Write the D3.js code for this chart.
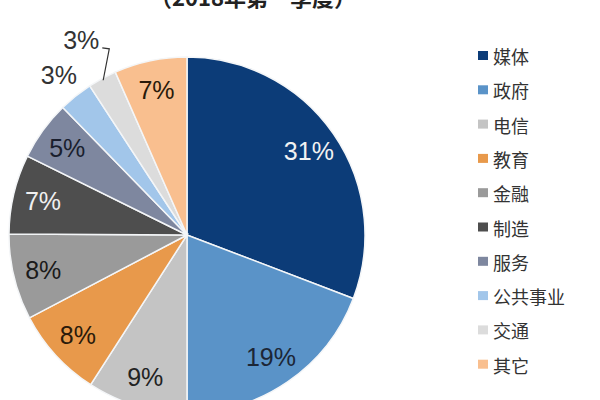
<!DOCTYPE html>
<html><head><meta charset="utf-8">
<script src="https://cdn.jsdelivr.net/npm/d3@7"></script>
<style>body{margin:0;background:#fff}svg{display:block}</style>
</head><body><svg id="c" width="600" height="400"></svg>
<script>
const title = "（2018年第一季度）";
const categories = ["媒体","政府","电信","教育","金融","制造","服务","公共事业","交通","其它"];
const values = [30.8, 19.2, 9.1, 8.2, 7.8, 7.2, 5.4, 3.1, 2.6, 6.6];
const labels = ["31%","19%","9%","8%","8%","7%","5%","3%","3%","7%"];
const colors = ["#0c3c78","#5a93c8","#c4c4c4","#e8994b","#9a9a9a","#4e4e4e","#7e879f","#a2c6ea","#dcdcdc","#f9bf8f"];
const labelColors = ["#f2f2f2","#1c2636","#222","#2a1a0a","#1a1a1a","#f0f0f0","#1a1f2e","#333","#333","#2a1a0a"];

const svg = d3.select("#c");
const cx = 187, cy = 235, R = 178;

svg.append("text").attr("x", 253).attr("y", 6).attr("text-anchor","middle")
  .attr("font-family","Noto Sans CJK SC").attr("font-size",22).attr("font-weight","bold")
  .attr("fill","#222").text(title);

const pie = d3.pie().sort(null).value(d => d)(values);
const arc = d3.arc().innerRadius(0).outerRadius(R);
const g = svg.append("g").attr("transform",`translate(${cx},${cy})`);
g.selectAll("path").data(pie).join("path")
  .attr("d", arc).attr("fill",(d,i)=>colors[i])
  .attr("stroke","#f4f6f8").attr("stroke-width",1.5);

const inArc = d3.arc().innerRadius(148).outerRadius(148);
const outside = {7: 205, 8: 222};
pie.forEach((d,i) => {
  let p;
  if (outside[i]) {
    p = d3.arc().innerRadius(outside[i]).outerRadius(outside[i]).centroid(d);
  } else p = inArc.centroid(d);
  g.append("text").attr("x",p[0]).attr("y",p[1]).attr("text-anchor","middle")
    .attr("dominant-baseline","central")
    .attr("font-family","Liberation Sans, Arial").attr("font-size",25)
    .attr("fill", labelColors[i]).text(labels[i]);
  if (i === 8) {
    const e = d3.arc().innerRadius(R-2).outerRadius(R-2).centroid(d);
    const lx = p[0] + 21, ly = p[1] + 8;
    g.append("polyline")
      .attr("points", `${lx},${ly} ${lx+7},${ly+1} ${e[0]},${e[1]}`)
      .attr("fill","none").attr("stroke","#333").attr("stroke-width",1.2);
  }
});

const lg = svg.append("g").attr("transform","translate(478,56)");
const rows = lg.selectAll("g").data(categories).join("g")
  .attr("transform",(d,i)=>`translate(0,${i*34.3})`);
rows.append("rect").attr("x",0).attr("y",-5).attr("width",10).attr("height",9)
  .attr("fill",(d,i)=>colors[i]);
rows.append("text").attr("x",15).attr("y",0).attr("dominant-baseline","central")
  .attr("font-family","Noto Sans CJK SC").attr("font-size",18).attr("fill","#333")
  .text(d=>d);
</script></body></html>
